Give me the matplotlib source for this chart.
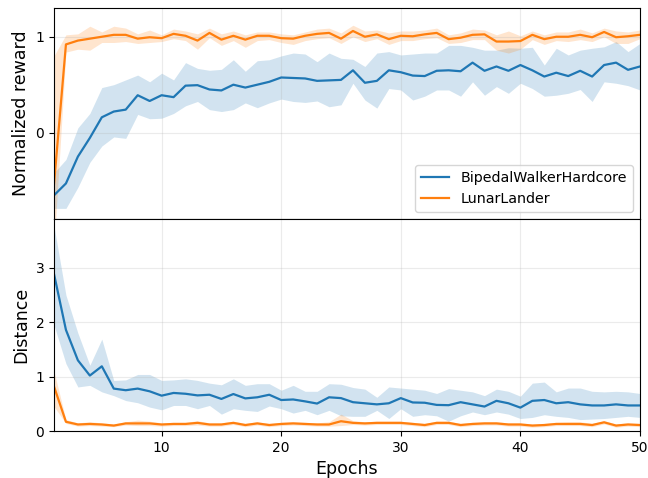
import numpy as np
import matplotlib
matplotlib.use("Agg")
import matplotlib.pyplot as plt

epochs = list(range(1, 51))

# Top: normalized reward
bw_reward = [-0.654, -0.53, -0.25, -0.055, 0.16, 0.22, 0.24, 0.39, 0.33, 0.39,
             0.37, 0.49, 0.495, 0.45, 0.44, 0.50, 0.47, 0.50, 0.53, 0.575,
             0.57, 0.565, 0.54, 0.545, 0.55, 0.65, 0.52, 0.54, 0.65, 0.63,
             0.595, 0.59, 0.645, 0.65, 0.64, 0.73, 0.645, 0.69, 0.645, 0.705,
             0.65, 0.585, 0.625, 0.59, 0.645, 0.585, 0.705, 0.73, 0.655, 0.69]
bw_reward_lo = [-0.79, -0.79, -0.57, -0.31, -0.14, -0.045, -0.06, 0.19, 0.145, 0.15,
                0.2, 0.28, 0.325, 0.24, 0.22, 0.24, 0.31, 0.26, 0.31, 0.35,
                0.325, 0.315, 0.33, 0.27, 0.29, 0.515, 0.34, 0.256, 0.46, 0.445,
                0.34, 0.38, 0.445, 0.445, 0.38, 0.53, 0.39, 0.48, 0.41, 0.515,
                0.46, 0.38, 0.39, 0.41, 0.45, 0.325, 0.53, 0.515, 0.49, 0.445]
bw_reward_hi = [-0.42, -0.28, 0.05, 0.2, 0.47, 0.5, 0.55, 0.6, 0.53, 0.62,
                0.55, 0.73, 0.67, 0.65, 0.66, 0.76, 0.64, 0.75, 0.76, 0.8,
                0.83, 0.82, 0.74, 0.83, 0.775, 0.765, 0.69, 0.83, 0.845, 0.81,
                0.82, 0.83, 0.83, 0.91, 0.91, 0.89, 0.86, 0.86, 0.885, 0.88,
                0.89, 0.705, 0.88, 0.81, 0.86, 0.88, 0.895, 0.95, 0.845, 0.93]

ll_reward = [-0.54, 0.92, 0.96, 0.98, 1.0, 1.02, 1.02, 0.98, 0.995, 0.985,
             1.03, 1.01, 0.96, 1.04, 0.97, 1.01, 0.97, 1.01, 1.01, 0.985,
             0.98, 1.01, 1.03, 1.04, 0.98, 1.06, 1.0, 1.025, 0.975, 1.01,
             1.005, 1.025, 1.04, 0.975, 0.99, 1.02, 1.025, 0.95, 0.95, 0.955,
             1.02, 0.975, 1.0, 1.0, 1.02, 0.995, 1.05, 0.995, 1.005, 1.02]
ll_reward_lo = [-1.2, 0.84, 0.87, 0.86, 0.94, 0.94, 0.95, 0.93, 0.94, 0.95,
                0.98, 0.96, 0.87, 0.99, 0.91, 0.96, 0.89, 0.96, 0.97, 0.94,
                0.92, 0.96, 0.98, 0.99, 0.93, 1.0, 0.95, 0.98, 0.92, 0.96,
                0.96, 0.98, 0.99, 0.93, 0.94, 0.97, 0.97, 0.86, 0.83, 0.87,
                0.97, 0.92, 0.96, 0.95, 0.97, 0.95, 1.0, 0.93, 0.93, 0.98]
ll_reward_hi = [0.8, 1.02, 1.03, 1.11, 1.05, 1.11, 1.09, 1.03, 1.07, 1.02,
                1.08, 1.06, 1.03, 1.09, 1.03, 1.06, 1.02, 1.05, 1.05, 1.03,
                1.02, 1.05, 1.08, 1.09, 1.04, 1.12, 1.06, 1.07, 1.04, 1.06,
                1.06, 1.07, 1.09, 1.02, 1.04, 1.08, 1.07, 1.02, 1.06, 1.01,
                1.06, 1.02, 1.05, 1.05, 1.08, 1.04, 1.09, 1.06, 1.05, 1.07]

# Bottom: distance
bw_dist = [2.89, 1.86, 1.30, 1.02, 1.19, 0.78, 0.75, 0.78, 0.73, 0.65,
           0.70, 0.685, 0.655, 0.667, 0.59, 0.68, 0.60, 0.62, 0.667, 0.57,
           0.58, 0.545, 0.505, 0.62, 0.605, 0.53, 0.51, 0.49, 0.51, 0.605,
           0.525, 0.52, 0.48, 0.475, 0.53, 0.49, 0.45, 0.555, 0.51, 0.43,
           0.555, 0.57, 0.51, 0.53, 0.49, 0.47, 0.47, 0.49, 0.47, 0.47]
bw_dist_lo = [1.95, 1.24, 0.81, 0.84, 0.72, 0.65, 0.56, 0.52, 0.44, 0.39,
              0.47, 0.47, 0.41, 0.47, 0.31, 0.41, 0.38, 0.36, 0.46, 0.41,
              0.33, 0.38, 0.30, 0.38, 0.28, 0.27, 0.27, 0.38, 0.23, 0.41,
              0.27, 0.30, 0.28, 0.18, 0.28, 0.35, 0.30, 0.35, 0.31, 0.23,
              0.25, 0.30, 0.27, 0.25, 0.21, 0.22, 0.23, 0.25, 0.27, 0.25]
bw_dist_hi = [3.77, 2.5, 1.8, 1.21, 1.69, 0.93, 0.94, 1.04, 1.04, 0.93,
              0.94, 0.96, 0.93, 0.88, 0.85, 0.96, 0.84, 0.87, 0.87, 0.75,
              0.84, 0.73, 0.73, 0.87, 0.86, 0.80, 0.77, 0.62, 0.81, 0.79,
              0.77, 0.75, 0.69, 0.78, 0.75, 0.72, 0.65, 0.77, 0.73, 0.64,
              0.88, 0.90, 0.72, 0.79, 0.79, 0.73, 0.72, 0.73, 0.72, 0.69]

ll_dist = [0.82, 0.17, 0.12, 0.13, 0.12, 0.10, 0.14, 0.14, 0.14, 0.12,
           0.13, 0.13, 0.15, 0.12, 0.12, 0.15, 0.11, 0.14, 0.11, 0.13,
           0.14, 0.13, 0.12, 0.12, 0.18, 0.15, 0.14, 0.15, 0.15, 0.15,
           0.13, 0.11, 0.15, 0.15, 0.11, 0.13, 0.14, 0.14, 0.12, 0.12,
           0.10, 0.11, 0.13, 0.13, 0.13, 0.11, 0.16, 0.10, 0.12, 0.11]
ll_dist_lo = [0.45, 0.14, 0.09, 0.10, 0.09, 0.08, 0.11, 0.10, 0.10, 0.09,
              0.10, 0.10, 0.11, 0.09, 0.09, 0.12, 0.08, 0.11, 0.08, 0.10,
              0.11, 0.10, 0.09, 0.09, 0.10, 0.12, 0.11, 0.12, 0.12, 0.12,
              0.10, 0.08, 0.12, 0.12, 0.08, 0.10, 0.11, 0.11, 0.09, 0.09,
              0.07, 0.08, 0.10, 0.10, 0.10, 0.08, 0.13, 0.07, 0.09, 0.08]
ll_dist_hi = [1.1, 0.21, 0.15, 0.17, 0.15, 0.13, 0.17, 0.20, 0.18, 0.15,
              0.16, 0.16, 0.19, 0.15, 0.15, 0.18, 0.14, 0.17, 0.14, 0.16,
              0.17, 0.16, 0.15, 0.17, 0.31, 0.19, 0.17, 0.18, 0.18, 0.18,
              0.16, 0.14, 0.18, 0.18, 0.14, 0.16, 0.17, 0.17, 0.15, 0.15,
              0.13, 0.14, 0.16, 0.17, 0.17, 0.14, 0.19, 0.13, 0.15, 0.14]

blue = "#1f77b4"
orange = "#ff7f0e"

fig = plt.figure(figsize=(6.48, 4.78), dpi=100)
ax1 = fig.add_axes([0.0833, 0.542, 0.9043, 0.4413])
ax2 = fig.add_axes([0.0833, 0.0983, 0.9043, 0.4437], sharex=ax1)

ax1.plot(epochs, bw_reward, color=blue, lw=1.6, label="BipedalWalkerHardcore")
ax1.fill_between(epochs, bw_reward_lo, bw_reward_hi, color=blue, alpha=0.2, lw=0)
ax1.plot(epochs, ll_reward, color=orange, lw=1.6, label="LunarLander")
ax1.fill_between(epochs, ll_reward_lo, ll_reward_hi, color=orange, alpha=0.2, lw=0)
ax1.set_ylim(-0.9, 1.3)
ax1.set_yticks([0, 1])
ax1.set_ylabel("Normalized reward", fontsize=12.5)
ax1.legend(loc="lower right", fontsize=10.3)
ax1.grid(True, alpha=0.25)
ax1.tick_params(axis="x", which="both", bottom=False, labelbottom=False)

ax2.plot(epochs, bw_dist, color=blue, lw=1.6)
ax2.fill_between(epochs, bw_dist_lo, bw_dist_hi, color=blue, alpha=0.2, lw=0)
ax2.plot(epochs, ll_dist, color=orange, lw=1.6)
ax2.fill_between(epochs, ll_dist_lo, ll_dist_hi, color=orange, alpha=0.2, lw=0)
ax2.set_ylim(0, 3.9)
ax2.set_yticks([0, 1, 2, 3])
ax2.set_ylabel("Distance", fontsize=12.5)
ax2.set_xlabel("Epochs", fontsize=12.5)
ax2.grid(True, alpha=0.25)
ax2.set_xlim(1, 50)
ax2.set_xticks([10, 20, 30, 40, 50])

for ax in (ax1, ax2):
    ax.tick_params(labelsize=10)

fig.savefig("out.png", dpi=100)
